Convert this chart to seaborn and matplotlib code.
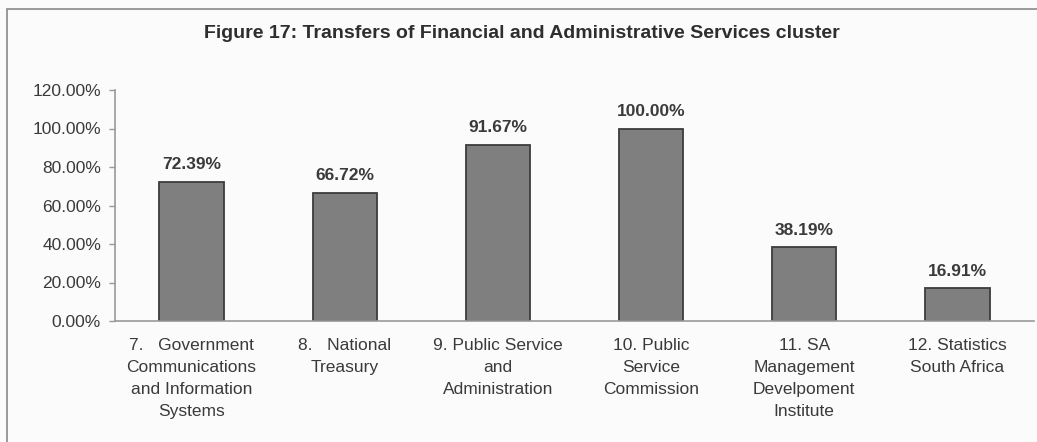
import matplotlib
matplotlib.use('Agg')
import matplotlib.pyplot as plt
import seaborn as sns
import pandas as pd
from matplotlib.patches import Rectangle
from matplotlib.ticker import FixedLocator

departments = [
    "7.   Government\nCommunications\nand Information\nSystems",
    "8.   National\nTreasury",
    "9. Public Service\nand\nAdministration",
    "10. Public\nService\nCommission",
    "11. SA\nManagement\nDevelpoment\nInstitute",
    "12. Statistics\nSouth Africa",
]
transfers_pct = [72.39, 66.72, 91.67, 100.00, 38.19, 16.91]
y_ticks = [0, 20, 40, 60, 80, 100, 120]

df = pd.DataFrame({"department": departments, "pct": transfers_pct})

sns.set_theme(style="white")
plt.rcParams['font.family'] = ['Liberation Sans', 'DejaVu Sans']
text_col = "#3a3a3a"

fig = plt.figure(figsize=(10.37, 4.42), dpi=100)
fig.patch.set_facecolor("#fbfbfb")
ax = fig.add_axes([115 / 1037, 1 - 321 / 442, 919 / 1037, 231 / 442])
ax.set_facecolor("#fbfbfb")

sns.barplot(data=df, x="department", y="pct", color="#7f7f7f", width=0.42,
            edgecolor="#3c3c3c", linewidth=1.3, saturation=1, ax=ax)

for i, v in enumerate(transfers_pct):
    ax.text(i, v + 5, f"{v:.2f}%", ha="center", va="bottom", fontsize=12.5,
            fontweight="bold", color=text_col)

ax.set_ylim(0, 120)
ax.set_xlim(-0.5, len(departments) - 0.5)
ax.set_yticks(y_ticks)
ax.set_yticklabels([f"{t:.2f}%" for t in y_ticks], fontsize=12.5, color=text_col)
ax.set_xticks(range(len(departments)))
ax.set_xticklabels(departments, fontsize=12.5, color=text_col, linespacing=1.58)
ax.tick_params(axis="x", which="major", length=0, pad=12)
ax.xaxis.set_minor_locator(FixedLocator([i - 0.5 for i in range(len(departments) + 1)]))
ax.tick_params(axis="x", which="minor", length=4, color="#999999", width=1)
ax.tick_params(axis="y", length=4, color="#999999", width=1, pad=6, left=True)
ax.set_xlabel("")
ax.set_ylabel("")

for s in ["top", "right"]:
    ax.spines[s].set_visible(False)
for s in ["left", "bottom"]:
    ax.spines[s].set_color("#999999")
    ax.spines[s].set_linewidth(1.2)

fig.text(522 / 1037, 1 - 34 / 442, "Figure 17: Transfers of Financial and Administrative Services cluster",
         ha="center", va="center", fontsize=14, fontweight="bold", color="#2e2e2e")

fig.patches.append(Rectangle((7 / 1037, -0.01), 1.1, 1 - 9 / 442 + 0.01,
                             transform=fig.transFigure, fill=False,
                             edgecolor="#8a8a8a", linewidth=1.2))

fig.savefig("out.png", dpi=100, facecolor=fig.get_facecolor())
